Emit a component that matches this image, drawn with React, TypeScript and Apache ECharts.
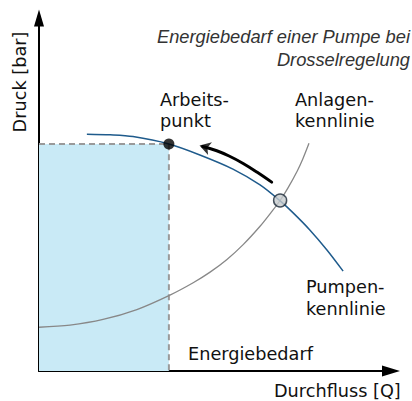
import React, { useEffect, useRef } from "react";
import * as echarts from "echarts";

// Pump characteristic (Pumpenkennlinie): [Durchfluss, Druck] in % of axis range
const pumpCurve: [number, number][] = [
  [13.6, 67.1], [20.2, 66.9], [26.7, 66.4], [36.9, 64.3], [45.7, 61.2],
  [55.1, 57.2], [62.8, 52.7], [68.5, 48.2], [72.2, 44.8], [77.0, 39.9],
  [81.8, 34.3], [86.4, 28.3],
];

// System characteristic (Anlagenkennlinie)
const systemCurve: [number, number][] = [
  [0, 12.4], [8.8, 13.0], [18.2, 14.6], [27.8, 17.4], [37.2, 21.5],
  [43.8, 25.0], [48.6, 28.0], [53.4, 31.6], [58.0, 35.8], [62.8, 41.0],
  [66.0, 45.0], [68.5, 48.3], [70.7, 51.8], [73.3, 56.5], [75.0, 60.2],
  [76.7, 64.5],
];

const operatingPoint: [number, number] = [36.9, 64.3];
const intersectionPoint: [number, number] = [68.5, 48.3];
// curved arrow (operating point moves up the pump curve)
const arrowPath: [number, number][] = [
  [66.1, 53.5], [62.0, 56.3], [58.0, 58.8], [54.0, 60.9], [50.5, 62.4], [46.5, 63.6],
];
const arrowHead: [number, number] = [45.6, 63.9];

const titleLines = ["Energiebedarf einer Pumpe bei", "Drosselregelung"];
const xAxisName = "Durchfluss [Q]";
const yAxisName = "Druck [bar]";
const areaLabel = "Energiebedarf";
const operatingLabel = ["Arbeits-", "punkt"];
const systemLabel = ["Anlagen-", "kennlinie"];
const pumpLabel = ["Pumpen-", "kennlinie"];

const FONT = "DejaVu Sans";
const FS = 17.7;

function label(text: string, x: number, baseline: number) {
  return {
    type: "text",
    x,
    y: baseline - 6.2,
    silent: true,
    style: {
      text,
      fill: "#111",
      font: `${FS}px "${FONT}"`,
      align: "left",
      verticalAlign: "middle",
    },
  };
}

function title(text: string, baseline: number) {
  return {
    type: "text",
    x: 410,
    y: baseline - 6.3,
    silent: true,
    style: {
      text,
      fill: "#333",
      font: 'italic 18.3px "Liberation Sans"',
      align: "right",
      verticalAlign: "middle",
    },
  };
}

export default function App() {
  const ref = useRef<HTMLDivElement>(null);

  useEffect(() => {
    document.body.style.margin = "0";
    if (!ref.current) return;
    const chart = echarts.init(ref.current, null, { renderer: "svg" });

    const option: any = {
      animation: false,
      backgroundColor: "#fff",
      grid: { left: 39, right: 21, top: 18, bottom: 30, containLabel: false },
      xAxis: {
        type: "value",
        min: 0,
        max: 100,
        axisLine: {
          show: true,
          onZero: false,
          symbol: ["none", "triangle"],
          symbolSize: [11, 18],
          lineStyle: { color: "#000", width: 2 },
        },
        axisTick: { show: false },
        axisLabel: { show: false },
        splitLine: { show: false },
      },
      yAxis: {
        type: "value",
        min: 0,
        max: 100,
        axisLine: {
          show: true,
          onZero: false,
          symbol: ["none", "triangle"],
          symbolSize: [10, 17],
          lineStyle: { color: "#000", width: 2 },
        },
        axisTick: { show: false },
        axisLabel: { show: false },
        splitLine: { show: false },
      },
      series: [
        {
          name: "Energiebedarf",
          type: "line",
          data: [[0, operatingPoint[1]], operatingPoint, [operatingPoint[0], 0]],
          symbol: "none",
          silent: true,
          z: 1,
          lineStyle: { color: "#9a9a9a", width: 2, type: [6, 4] },
          markArea: {
            silent: true,
            itemStyle: { color: "#c9eaf6" },
            data: [[{ coord: [0, 0] }, { coord: operatingPoint }]],
          },
        },
        {
          name: "Anlagenkennlinie",
          type: "line",
          data: systemCurve,
          smooth: 0.3,
          symbol: "none",
          silent: true,
          z: 3,
          lineStyle: { color: "#888", width: 1.3 },
        },
        {
          name: "Pumpenkennlinie",
          type: "line",
          data: pumpCurve,
          smooth: 0.3,
          symbol: "none",
          silent: true,
          z: 4,
          lineStyle: { color: "#1f5b8c", width: 1.5 },
        },
        {
          name: "Pfeil",
          type: "line",
          data: arrowPath,
          smooth: 0.4,
          symbol: "none",
          silent: true,
          z: 5,
          lineStyle: { color: "#000", width: 3, cap: "round" },
        },
        {
          name: "Pfeilspitze",
          type: "scatter",
          data: [arrowHead],
          symbol: "arrow",
          symbolSize: [10, 11],
          symbolRotate: 73,
          silent: true,
          z: 5,
          itemStyle: { color: "#000" },
        },
        {
          name: "Arbeitspunkt",
          type: "scatter",
          data: [operatingPoint],
          symbol: "circle",
          symbolSize: 11,
          silent: true,
          z: 6,
          itemStyle: { color: "#000" },
        },
        {
          name: "Schnittpunkt",
          type: "scatter",
          data: [intersectionPoint],
          symbol: "circle",
          symbolSize: 13,
          silent: true,
          z: 6,
          itemStyle: { color: "#c5cacd", borderColor: "#1c2b3a", borderWidth: 1.5 },
        },
      ],
      graphic: [
        title(titleLines[0], 42.7),
        title(titleLines[1], 65.5),
        label(operatingLabel[0], 160, 106),
        label(operatingLabel[1], 160, 127),
        label(systemLabel[0], 295, 106),
        label(systemLabel[1], 295, 127),
        label(pumpLabel[0], 306, 293),
        label(pumpLabel[1], 306, 315),
        label(areaLabel, 188, 360),
        label(xAxisName, 274, 397),
        {
          type: "text",
          x: 20,
          y: 82,
          rotation: Math.PI / 2,
          silent: true,
          style: {
            text: yAxisName,
            fill: "#111",
            font: `${FS}px "${FONT}"`,
            align: "center",
            verticalAlign: "middle",
          },
        },
      ],
    };

    chart.setOption(option);
    return () => chart.dispose();
  }, []);

  return <div ref={ref} style={{ width: 412, height: 401 }} />;
}
